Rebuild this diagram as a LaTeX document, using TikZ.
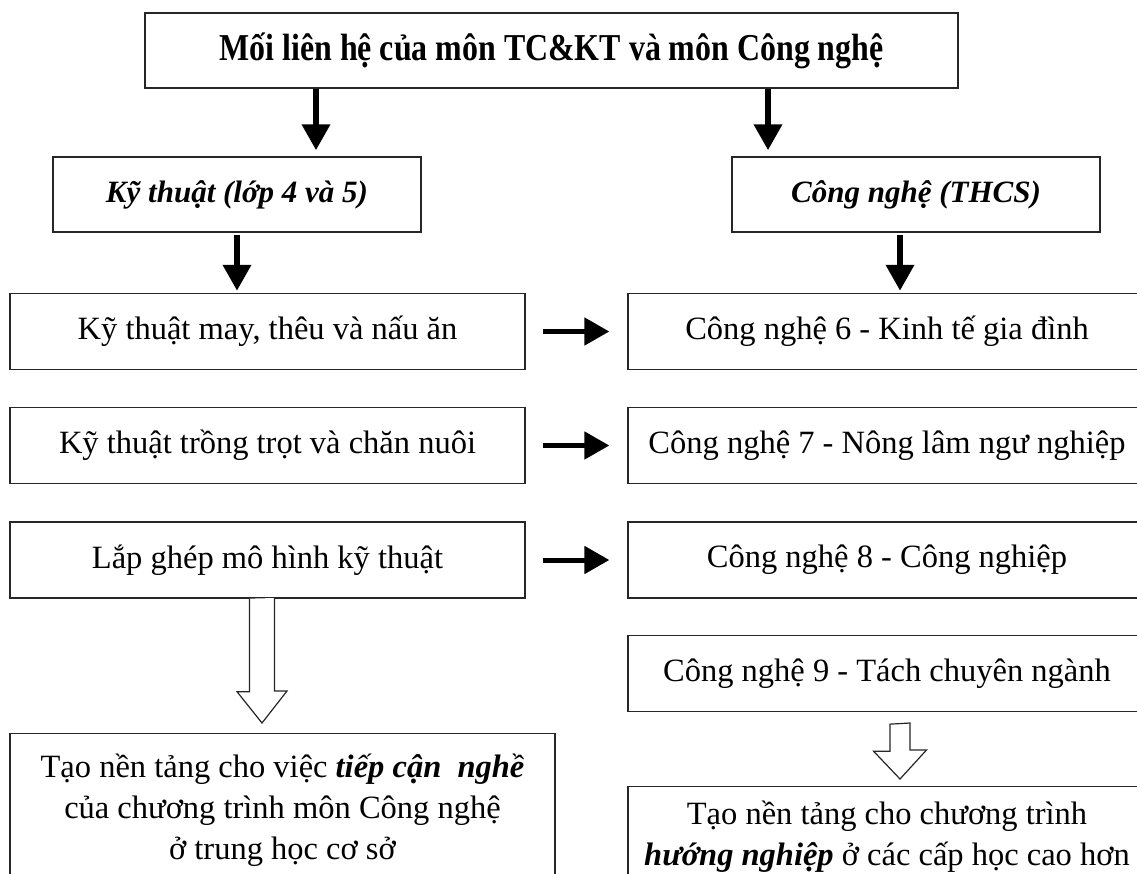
\documentclass[tikz,border=0pt]{standalone}
\usepackage{fontspec}
\usepackage{graphicx}
\setmainfont{Liberation Serif}
\usetikzlibrary{arrows.meta,calc}
\begin{document}
\begin{tikzpicture}[x=1pt,y=-1pt,
  box/.style={draw=black!85,line width=1.3pt,inner sep=0pt,minimum height=76pt,
    font=\fontsize{32.5}{38}\selectfont},
  headbox/.style={box,font=\fontsize{31}{36}\selectfont\bfseries\itshape},
  tallbox/.style={draw=black!85,line width=1.3pt,inner xsep=0pt,inner ysep=20pt,
    align=center,anchor=north,font=\fontsize{32.5}{41}\selectfont},
  solidarrow/.style={line width=6.5pt,-{Triangle[width=27pt,length=26pt]}},
  sidearrow/.style={line width=5pt,-{Triangle[width=27pt,length=25pt]},
    shorten <=17pt,shorten >=18pt},
  hollow/.style={draw=black!85,line width=1.2pt,fill=white,line join=miter}
]
\useasboundingbox (0,0) rectangle (1137,874);
\clip (0,0) rectangle (1137,874);

% top
\node[box,minimum width=813pt,minimum height=75pt] (top) at (551.5,50.5)
  {\fontsize{38}{40}\selectfont\bfseries\scalebox{0.84}[1]{Mối liên hệ của môn TC\&KT và môn Công nghệ}};

% second level
\node[headbox,minimum width=368pt,minimum height=75pt] (kt) at (237,194.5) {Kỹ thuật (lớp 4 và 5)};
\node[headbox,minimum width=368pt,minimum height=75pt] (cn) at (916,194.5) {Công nghệ (THCS)};

% left column
\node[box,minimum width=515pt] (l1) at (267.5,331.5) {Kỹ thuật may, thêu và nấu ăn};
\node[box,minimum width=515pt] (l2) at (267.5,445.5) {Kỹ thuật trồng trọt và chăn nuôi};
\node[box,minimum width=515pt] (l3) at (267.5,560) {Lắp ghép mô hình kỹ thuật};

% right column
\node[box,minimum width=518pt] (r1) at (887,331.5) {Công nghệ 6 - Kinh tế gia đình};
\node[box,minimum width=518pt] (r2) at (887,445.5) {Công nghệ 7 - Nông lâm ngư nghiệp};
\node[box,minimum width=518pt] (r3) at (887,560) {Công nghệ 8 - Công nghiệp};
\node[box,minimum width=518pt] (r4) at (887,673.5) {Công nghệ 9 - Tách chuyên ngành};

% bottom boxes
\node[tallbox,minimum width=545pt] (bl) at (282.5,733)
  {Tạo nền tảng cho việc \textbf{\textit{tiếp cận\ \ nghề}}\\
   của chương trình môn Công nghệ\\
   ở trung học cơ sở};
\node[tallbox,minimum width=518pt,inner ysep=14pt] (br) at (887,786)
  {Tạo nền tảng cho chương trình\\
   \textbf{\textit{hướng nghiệp}} ở các cấp học cao hơn};

% solid arrows
\coordinate (a1) at (316,0);
\coordinate (a2) at (768,0);
\coordinate (a4) at (900,0);
\draw[solidarrow,shorten >=6pt] (top.south -| a1) -- (kt.north -| a1);
\draw[solidarrow,shorten >=6pt] (top.south -| a2) -- (cn.north -| a2);
\draw[solidarrow,shorten <=2pt,shorten >=2pt] (kt.south) -- (l1.north -| kt.south);
\draw[solidarrow,shorten <=2pt,shorten >=2pt] (cn.south -| a4) -- (r1.north -| a4);

\draw[sidearrow] (l1.east) -- (r1.west);
\draw[sidearrow] (l2.east) -- (r2.west);
\draw[sidearrow] (l3.east) -- (r3.west);

% hollow arrows
\coordinate (h1) at (262,0);
\coordinate (h2) at (900,0);
\draw[hollow] (l3.south -| h1) ++(-12.5,0) -- ++(0,93) -- ++(-12.5,0)
  -- ($(bl.north -| h1)+(0,-10)$) -- ++(25,-32) -- ++(-12.5,0) -- ++(0,-93);
\draw[hollow] ($(r4.south -| h2)+(-10,12)$) -- ++(0,27) -- ++(-16.5,0)
  -- ($(br.north -| h2)+(0,-7)$) -- ++(26.5,-29) -- ++(-16.5,0) -- ++(0,-27) -- cycle;
\end{tikzpicture}
\end{document}
